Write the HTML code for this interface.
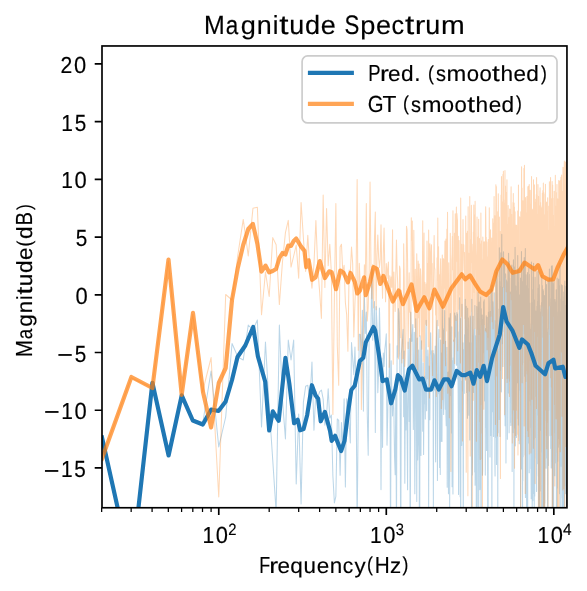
<!DOCTYPE html>
<html><head><meta charset="utf-8"><title>Magnitude Spectrum</title>
<style>html,body{margin:0;padding:0;background:#fff;}svg{display:block;}text{font-family:"Liberation Sans",sans-serif;fill:#000;text-rendering:geometricPrecision;}</style>
</head><body>
<svg style="will-change:transform" width="587" height="591" viewBox="0 0 587 591">
<rect width="587" height="591" fill="#fff"/>
<defs><clipPath id="ax"><rect x="102.0" y="45.97" width="464.95000000000005" height="461.78"/></clipPath></defs>
<g clip-path="url(#ax)" fill="none" stroke-linejoin="round" stroke-linecap="butt">
<path d="M101.66,437.50 L131.16,568.48 L152.09,385.55 L168.33,454.28 L181.59,395.89 L192.81,420.50 L202.52,424.50 L211.09,371.00 L218.76,447.00 L225.69,417.00 L232.03,343.50 L237.85,357.00 L243.24,360.00 L248.26,325.00 L252.96,330.00 L257.37,320.00 L261.53,427.00 L265.46,342.00 L269.19,407.00 L272.74,460.00 L276.13,512.00 L279.36,325.00 L282.46,400.00 L285.43,439.00 L288.28,340.00 L291.03,360.00 L293.67,340.00 L296.23,484.00 L298.69,414.00 L301.08,504.00 L303.39,402.17 L305.63,386.32 L307.80,385.34 L309.91,401.90 L311.96,361.94 L313.95,430.34 L315.89,391.31 L317.78,397.35 L319.62,391.89 L321.42,390.01 L323.17,399.12 L324.88,425.14 L326.56,416.08 L328.19,388.72 L329.79,418.28 L331.36,415.09 L332.89,475.84 L334.39,502.87 L335.86,496.37 L337.30,418.97 L338.71,420.31 L340.10,475.26 L341.46,422.52 L342.79,450.18 L344.10,398.89 L345.39,487.00 L346.66,398.74 L347.90,403.55 L349.12,423.26 L350.33,442.94 L351.51,342.54 L352.67,358.57 L353.82,374.73 L354.95,346.98 L356.06,387.36 L357.15,526.89 L358.23,413.50 L359.29,334.37 L360.34,334.52 L361.37,356.25 L362.39,310.34 L363.39,411.11 L364.38,296.54 L365.36,333.55 L366.32,312.07 L367.27,414.69 L368.21,455.24 L369.14,334.17 L370.05,335.71 L370.96,326.98 L371.85,268.95 L372.73,340.20 L373.60,323.48 L374.47,301.46 L375.32,432.60 L376.16,306.56 L376.99,325.02 L377.81,392.75 L378.62,371.15 L379.43,308.03 L380.22,339.96 L381.01,489.61 L381.79,358.00 L382.56,447.37 L383.32,352.98 L384.07,366.54 L384.82,349.57 L385.56,342.83 L386.29,333.81 L387.01,445.12 L387.73,414.43 L388.44,379.05 L389.14,375.88 L389.84,343.71 L390.53,552.20 L391.21,360.72 L391.89,393.93 L392.56,416.07 L393.22,389.63 L393.88,411.02 L394.54,456.77 L395.18,474.81 L395.82,391.32 L396.46,535.28 L397.09,345.66 L397.71,357.30 L398.33,308.59 L398.95,312.64 L399.56,332.42 L400.16,417.32 L400.76,563.90 L401.35,353.61 L401.94,346.19 L402.53,337.31 L403.11,329.39 L403.68,416.73 L404.25,351.10 L404.82,483.24 L405.38,378.54 L405.94,429.89 L406.49,383.55 L407.04,420.66 L407.58,489.65 L408.12,342.13 L408.66,372.84 L409.19,421.37 L409.72,338.41 L410.25,603.87 L410.77,312.22 L411.29,338.88 L411.80,341.42 L412.31,333.99 L412.82,324.46 L413.32,429.54 L413.82,384.85 L414.32,332.24 L414.81,493.82 L415.30,430.39 L415.79,318.70 L416.27,349.88 L416.75,501.58 L417.23,338.07 L417.71,459.95 L418.18,443.06 L418.64,350.00 L419.11,399.16 L419.57,647.42 L420.03,335.79 L420.49,427.17 L420.94,455.46 L421.39,340.86 L421.84,376.22 L422.28,380.98 L422.73,431.34 L423.16,362.74 L423.60,454.39 L424.04,390.48 L424.47,403.79 L424.90,376.36 L425.32,419.10 L425.75,351.74 L426.17,320.25 L426.59,410.74 L427.01,356.72 L427.42,378.69 L427.83,350.13 L428.24,358.48 L428.65,507.77 L429.06,366.03 L429.46,376.66 L429.86,419.63 L430.26,348.39 L430.65,332.67 L431.05,354.10 L431.44,350.78 L431.83,377.64 L432.22,384.41 L432.61,368.52 L432.99,350.45 L433.37,509.14 L433.75,353.55 L434.13,356.32 L434.51,389.98 L434.88,368.58 L435.25,346.04 L435.62,461.87 L435.99,374.74 L436.36,339.80 L436.72,328.04 L437.08,320.18 L437.45,480.47 L437.80,374.58 L438.16,393.76 L438.52,344.76 L438.87,329.40 L439.22,383.93 L439.58,467.54 L439.92,391.17 L440.27,474.51 L440.62,339.92 L440.96,441.36 L441.30,366.95 L441.64,353.10 L441.98,441.45 L442.32,306.32 L442.66,355.57 L442.99,328.52 L443.32,401.00 L443.66,414.49 L443.99,329.96 L444.31,337.00 L444.64,310.53 L444.97,395.72 L445.29,409.35 L445.61,341.23 L445.94,415.50 L446.25,425.69 L446.57,396.68 L446.89,347.37 L447.21,487.14 L447.52,372.50 L447.83,386.47 L448.14,371.97 L448.45,493.70 L448.76,445.01 L449.07,317.87 L449.38,322.88 L449.68,511.42 L449.99,359.43 L450.29,313.49 L450.59,346.77 L450.89,395.62 L451.19,383.49 L451.49,432.90 L451.78,326.77 L452.08,486.67 L452.37,371.01 L452.67,360.65 L452.96,493.92 L453.25,357.81 L453.54,385.55 L453.82,339.98 L454.11,384.69 L454.40,355.29 L454.68,313.12 L454.97,336.99 L455.25,323.35 L455.53,315.76 L455.81,328.26 L456.09,345.03 L456.37,365.17 L456.65,323.29 L456.92,312.56 L457.20,365.09 L457.47,314.33 L457.74,379.06 L458.02,375.23 L458.29,412.90 L458.56,494.42 L458.83,347.86 L459.09,331.84 L459.36,412.07 L459.63,297.66 L459.89,412.66 L460.16,496.79 L460.42,318.45 L460.68,601.85 L460.94,386.78 L461.20,400.40 L461.46,381.11 L461.72,445.37 L461.98,304.31 L462.23,343.57 L462.49,363.40 L462.75,390.99 L463.00,342.76 L463.25,562.11 L463.50,368.62 L463.76,349.83 L464.01,390.16 L464.26,393.40 L464.50,334.78 L464.75,379.19 L465.00,337.83 L465.25,299.15 L465.49,357.32 L465.74,379.30 L465.98,334.21 L466.22,306.22 L466.46,326.45 L466.71,392.56 L466.95,329.10 L467.19,341.43 L467.42,418.24 L467.66,308.31 L467.90,331.61 L468.14,370.92 L468.37,318.06 L468.61,384.19 L468.84,415.27 L469.08,374.57 L469.31,366.77 L469.54,342.64 L469.77,440.06 L470.00,326.01 L470.23,315.97 L470.46,317.70 L470.69,368.80 L470.92,342.89 L471.14,357.65 L471.37,377.67 L471.60,647.00 L471.82,299.21 L472.05,340.82 L472.27,474.88 L472.49,460.31 L472.71,385.54 L472.94,362.44 L473.16,316.27 L473.38,386.57 L473.60,392.42 L473.82,390.48 L474.03,354.51 L474.25,337.65 L474.47,328.91 L474.68,472.07 L474.90,305.44 L475.11,485.13 L475.33,457.99 L475.54,335.76 L475.76,361.26 L475.97,479.02 L476.18,433.01 L476.39,588.14 L476.60,510.45 L476.81,306.49 L477.02,327.67 L477.23,506.59 L477.44,398.02 L477.65,333.06 L477.85,359.32 L478.06,292.23 L478.26,315.78 L478.47,412.92 L478.67,511.96 L478.88,364.62 L479.08,329.34 L479.28,301.99 L479.49,332.03 L479.69,334.18 L479.89,489.62 L480.09,350.67 L480.29,400.00 L480.49,385.39 L480.69,297.04 L480.89,372.14 L481.09,679.91 L481.28,308.89 L481.48,364.21 L481.68,401.02 L481.87,337.76 L482.07,458.85 L482.26,314.95 L482.46,475.22 L482.65,470.71 L482.84,319.66 L483.04,322.68 L483.23,337.37 L483.42,352.19 L483.61,301.82 L483.80,309.55 L483.99,362.07 L484.18,299.86 L484.37,339.19 L484.56,400.95 L484.75,347.47 L484.94,331.39 L485.12,377.62 L485.31,475.12 L485.50,328.64 L485.68,427.15 L485.87,362.38 L486.05,379.36 L486.24,315.87 L486.42,394.01 L486.61,450.38 L486.79,431.26 L486.97,360.92 L487.15,317.23 L487.33,343.49 L487.52,401.70 L487.70,530.13 L487.88,417.16 L488.06,603.00 L488.24,365.47 L488.42,311.92 L488.59,352.66 L488.77,379.61 L488.95,296.22 L489.13,302.04 L489.30,318.15 L489.48,317.32 L489.66,331.52 L489.83,329.70 L490.01,457.01 L490.18,330.60 L490.36,311.55 L490.53,396.82 L490.70,435.60 L490.88,355.06 L491.05,288.88 L491.22,372.74 L491.39,388.31 L491.56,315.61 L491.73,359.17 L491.91,572.82 L492.08,284.99 L492.25,315.04 L492.41,332.14 L492.58,411.79 L492.75,307.22 L492.92,301.83 L493.09,308.25 L493.26,393.03 L493.42,389.81 L493.59,436.43 L493.76,310.89 L493.92,367.53 L494.09,371.32 L494.25,292.73 L494.42,367.42 L494.58,379.17 L494.75,320.57 L494.91,462.65 L495.07,475.97 L495.24,350.09 L495.40,381.37 L495.56,325.08 L495.72,437.24 L495.88,331.79 L496.05,272.30 L496.21,318.32 L496.37,311.96 L496.53,464.42 L496.69,396.89 L496.85,273.05 L497.00,268.08 L497.16,286.68 L497.32,301.21 L497.48,349.80 L497.64,349.29 L497.79,563.54 L497.95,352.60 L498.11,382.33 L498.26,432.66 L498.42,385.42 L498.58,351.29 L498.73,353.77 L498.89,308.97 L499.04,351.92 L499.20,419.43 L499.35,247.84 L499.50,395.51 L499.66,281.54 L499.81,299.78 L499.96,436.49 L500.11,333.57 L500.27,286.95 L500.42,290.36 L500.57,305.80 L500.72,370.42 L500.87,252.89 L501.02,341.75 L501.17,308.56 L501.32,391.86 L501.47,265.95 L501.62,277.17 L501.77,234.23 L501.92,301.95 L502.07,291.89 L502.21,343.68 L502.36,291.81 L502.51,287.58 L502.66,310.38 L502.80,308.06 L502.95,366.55 L503.10,316.43 L503.24,331.73 L503.39,252.99 L503.53,251.89 L503.68,323.64 L503.82,296.34 L503.97,264.53 L504.11,303.35 L504.26,304.82 L504.40,279.75 L504.54,264.59 L504.69,269.00 L504.83,416.02 L504.97,353.95 L505.11,425.66 L505.26,346.60 L505.40,325.23 L505.54,273.79 L505.68,275.34 L505.82,325.07 L505.96,463.08 L506.10,298.40 L506.24,310.13 L506.38,279.97 L506.52,341.28 L506.66,293.92 L506.80,281.59 L506.94,290.86 L507.08,378.54 L507.21,327.37 L507.35,439.30 L507.49,343.40 L507.63,311.51 L507.77,389.47 L507.90,264.55 L508.04,387.98 L508.17,315.48 L508.31,304.65 L508.45,393.07 L508.58,253.33 L508.72,306.05 L508.85,313.96 L508.99,369.95 L509.12,432.63 L509.26,261.31 L509.39,277.62 L509.52,343.54 L509.66,297.14 L509.79,335.35 L509.93,325.22 L510.06,381.19 L510.19,291.90 L510.32,320.33 L510.46,341.38 L510.59,422.39 L510.72,336.55 L510.85,425.60 L510.98,392.56 L511.11,304.32 L511.24,278.37 L511.37,313.88 L511.50,265.68 L511.63,320.27 L511.76,291.02 L511.89,265.13 L512.02,309.61 L512.15,471.45 L512.28,274.44 L512.41,293.90 L512.54,293.53 L512.67,270.25 L512.79,347.50 L512.92,332.94 L513.05,407.34 L513.18,388.50 L513.30,432.66 L513.43,259.83 L513.56,271.56 L513.68,284.66 L513.81,267.10 L513.94,512.91 L514.06,347.94 L514.19,313.99 L514.31,343.15 L514.44,412.11 L514.56,330.47 L514.69,266.67 L514.81,405.88 L514.94,427.98 L515.06,247.25 L515.18,273.22 L515.31,445.86 L515.43,323.25 L515.55,302.24 L515.68,286.98 L515.80,285.99 L515.92,402.61 L516.04,291.01 L516.17,419.69 L516.29,312.61 L516.41,437.50 L516.53,306.66 L516.65,331.36 L516.77,291.86 L516.90,301.37 L517.02,271.26 L517.14,271.54 L517.26,306.92 L517.38,382.80 L517.50,344.93 L517.62,353.79 L517.74,255.53 L517.86,314.65 L517.98,343.46 L518.09,418.65 L518.21,284.03 L518.33,425.00 L518.45,328.37 L518.57,408.74 L518.69,282.19 L518.80,403.75 L518.92,268.22 L519.04,436.17 L519.16,431.79 L519.27,443.81 L519.39,308.32 L519.51,390.33 L519.62,295.87 L519.74,331.55 L519.86,303.50 L519.97,330.34 L520.09,337.08 L520.20,294.31 L520.32,321.86 L520.43,291.78 L520.55,277.90 L520.66,565.84 L520.78,295.93 L520.89,281.04 L521.01,290.64 L521.12,382.99 L521.24,420.95 L521.35,392.07 L521.46,251.59 L521.58,329.54 L521.69,469.00 L521.80,282.58 L521.92,274.63 L522.03,269.93 L522.14,292.50 L522.25,312.38 L522.37,370.29 L522.48,281.60 L522.59,532.69 L522.70,301.01 L522.81,480.78 L522.92,347.93 L523.03,414.31 L523.15,456.65 L523.26,350.75 L523.37,362.86 L523.48,261.90 L523.59,292.19 L523.70,284.77 L523.81,319.21 L523.92,333.71 L524.03,319.17 L524.14,323.75 L524.25,257.45 L524.36,302.97 L524.46,290.36 L524.57,295.63 L524.68,376.14 L524.79,322.85 L524.90,275.03 L525.01,262.78 L525.12,454.92 L525.22,278.60 L525.33,248.54 L525.44,497.53 L525.55,314.10 L525.65,316.41 L525.76,291.75 L525.87,413.71 L525.97,415.58 L526.08,274.82 L526.19,379.43 L526.29,292.17 L526.40,405.73 L526.51,323.96 L526.61,564.62 L526.72,400.46 L526.82,308.13 L526.93,318.00 L527.03,355.33 L527.14,285.41 L527.24,298.94 L527.35,314.54 L527.45,272.52 L527.56,280.25 L527.66,560.04 L527.77,381.41 L527.87,311.00 L527.97,376.66 L528.08,290.25 L528.18,347.08 L528.28,333.98 L528.39,288.45 L528.49,290.05 L528.59,443.07 L528.70,380.98 L528.80,268.26 L528.90,305.76 L529.00,358.70 L529.11,297.37 L529.21,472.69 L529.31,274.31 L529.41,388.43 L529.51,341.56 L529.62,353.66 L529.72,318.96 L529.82,303.06 L529.92,391.92 L530.02,323.77 L530.12,331.15 L530.22,340.44 L530.32,401.10 L530.42,329.14 L530.52,338.42 L530.62,427.67 L530.72,351.81 L530.82,468.59 L530.92,354.70 L531.02,452.24 L531.12,484.96 L531.22,498.77 L531.32,357.93 L531.42,262.12 L531.52,470.85 L531.62,310.43 L531.72,364.24 L531.81,408.70 L531.91,302.64 L532.01,335.85 L532.11,304.81 L532.21,704.22 L532.30,309.62 L532.40,420.20 L532.50,375.97 L532.60,324.52 L532.69,289.48 L532.79,441.38 L532.89,500.68 L532.99,277.06 L533.08,286.29 L533.18,268.95 L533.28,295.58 L533.37,369.59 L533.47,321.33 L533.56,263.35 L533.66,371.39 L533.76,443.33 L533.85,493.48 L533.95,375.16 L534.04,354.67 L534.14,432.07 L534.23,542.18 L534.33,304.00 L534.42,299.94 L534.52,450.11 L534.61,307.36 L534.71,496.03 L534.80,399.15 L534.90,365.79 L534.99,347.96 L535.09,277.19 L535.18,356.12 L535.27,323.98 L535.37,396.23 L535.46,352.69 L535.56,321.77 L535.65,348.37 L535.74,355.32 L535.84,310.95 L535.93,336.61 L536.02,437.54 L536.11,369.98 L536.21,329.67 L536.30,353.83 L536.39,458.13 L536.49,362.86 L536.58,491.46 L536.67,370.04 L536.76,306.28 L536.85,350.45 L536.95,372.70 L537.04,271.52 L537.13,304.83 L537.22,311.16 L537.31,337.42 L537.40,301.29 L537.49,333.65 L537.58,360.67 L537.68,415.29 L537.77,328.36 L537.86,463.84 L537.95,323.14 L538.04,401.82 L538.13,404.01 L538.22,346.58 L538.31,288.18 L538.40,476.23 L538.49,333.93 L538.58,508.97 L538.67,271.49 L538.76,320.06 L538.85,330.14 L538.94,373.79 L539.03,411.67 L539.11,346.22 L539.20,486.89 L539.29,360.64 L539.38,284.82 L539.47,382.72 L539.56,550.33 L539.65,381.20 L539.74,318.73 L539.82,310.59 L539.91,305.52 L540.00,466.70 L540.09,490.88 L540.18,374.56 L540.26,369.22 L540.35,390.31 L540.44,350.19 L540.53,336.91 L540.61,319.42 L540.70,421.88 L540.79,398.21 L540.87,427.70 L540.96,311.70 L541.05,430.25 L541.13,418.93 L541.22,309.11 L541.31,413.98 L541.39,314.18 L541.48,302.52 L541.57,452.18 L541.65,321.24 L541.74,614.27 L541.82,275.25 L541.91,359.17 L542.00,380.05 L542.08,417.26 L542.17,341.22 L542.25,336.00 L542.34,285.53 L542.42,477.00 L542.51,531.15 L542.59,359.74 L542.68,368.13 L542.76,391.38 L542.85,539.08 L542.93,360.30 L543.02,289.41 L543.10,307.50 L543.18,425.45 L543.27,335.08 L543.35,404.65 L543.44,290.70 L543.52,597.14 L543.60,304.28 L543.69,323.82 L543.77,348.00 L543.85,485.00 L543.94,315.13 L544.02,627.28 L544.10,365.55 L544.19,379.78 L544.27,295.51 L544.35,529.62 L544.44,335.25 L544.52,680.53 L544.60,361.62 L544.68,443.53 L544.77,367.49 L544.85,502.98 L544.93,350.92 L545.01,367.42 L545.10,420.13 L545.18,319.62 L545.26,395.04 L545.34,288.15 L545.42,407.65 L545.50,279.77 L545.59,295.08 L545.67,355.29 L545.75,391.11 L545.83,304.15 L545.91,356.56 L545.99,396.84 L546.07,468.30 L546.15,315.77 L546.24,346.15 L546.32,284.20 L546.40,350.78 L546.48,285.00 L546.56,360.74 L546.64,309.36 L546.72,314.20 L546.80,458.09 L546.88,328.55 L546.96,339.08 L547.04,409.00 L547.12,424.33 L547.20,383.00 L547.28,399.94 L547.36,422.92 L547.44,333.08 L547.52,580.05 L547.60,546.53 L547.67,531.66 L547.75,485.69 L547.83,508.19 L547.91,377.83 L547.99,359.66 L548.07,350.64 L548.15,281.01 L548.23,323.83 L548.30,388.45 L548.38,465.38 L548.46,281.90 L548.54,297.71 L548.62,410.53 L548.70,309.76 L548.77,300.09 L548.85,337.36 L548.93,331.38 L549.01,335.42 L549.09,291.74 L549.16,291.72 L549.24,315.16 L549.32,287.48 L549.40,268.99 L549.47,345.11 L549.55,315.08 L549.63,357.97 L549.70,350.83 L549.78,361.42 L549.86,397.76 L549.93,435.67 L550.01,402.17 L550.09,332.91 L550.16,306.60 L550.24,328.30 L550.32,318.94 L550.39,390.44 L550.47,361.52 L550.55,362.20 L550.62,298.68 L550.70,448.41 L550.77,389.29 L550.85,288.89 L550.93,279.14 L551.00,438.00 L551.08,311.96 L551.15,387.45 L551.23,467.89 L551.30,337.58 L551.38,273.61 L551.45,266.13 L551.53,392.39 L551.60,320.86 L551.68,460.94 L551.75,323.73 L551.83,309.86 L551.90,339.55 L551.98,293.97 L552.05,333.67 L552.13,337.23 L552.20,343.17 L552.28,265.70 L552.35,585.17 L552.42,329.17 L552.50,321.99 L552.57,431.29 L552.65,361.07 L552.72,507.88 L552.79,282.81 L552.87,349.19 L552.94,322.63 L553.02,341.75 L553.09,441.14 L553.16,304.24 L553.24,455.99 L553.31,337.63 L553.38,346.29 L553.46,284.14 L553.53,333.09 L553.60,628.38 L553.67,413.90 L553.75,328.42 L553.82,411.29 L553.89,386.61 L553.97,361.42 L554.04,280.50 L554.11,417.31 L554.18,339.24 L554.26,361.76 L554.33,340.65 L554.40,432.76 L554.47,397.12 L554.54,325.31 L554.62,339.89 L554.69,392.21 L554.76,319.17 L554.83,475.78 L554.90,299.62 L554.97,420.94 L555.05,423.65 L555.12,357.90 L555.19,322.58 L555.26,320.63 L555.33,301.85 L555.40,326.76 L555.47,384.14 L555.55,333.27 L555.62,303.66 L555.69,314.07 L555.76,418.17 L555.83,426.81 L555.90,462.95 L555.97,373.45 L556.04,325.37 L556.11,365.02 L556.18,289.79 L556.25,366.37 L556.32,358.55 L556.39,589.93 L556.46,706.45 L556.53,443.75 L556.60,440.25 L556.67,397.80 L556.74,379.18 L556.81,485.70 L556.88,574.97 L556.95,529.83 L557.02,301.15 L557.09,433.17 L557.16,277.97 L557.23,300.14 L557.30,487.91 L557.37,322.18 L557.44,389.88 L557.51,442.38 L557.58,359.74 L557.65,325.58 L557.72,461.19 L557.78,353.90 L557.85,317.96 L557.92,413.38 L557.99,381.80 L558.06,363.58 L558.13,438.42 L558.20,383.94 L558.27,319.90 L558.33,311.67 L558.40,380.64 L558.47,344.37 L558.54,279.50 L558.61,407.96 L558.67,339.89 L558.74,279.01 L558.81,298.73 L558.88,297.23 L558.95,447.25 L559.01,419.21 L559.08,341.95 L559.15,317.70 L559.22,323.26 L559.28,390.01 L559.35,291.38 L559.42,316.39 L559.49,493.71 L559.55,368.06 L559.62,321.77 L559.69,325.82 L559.76,285.60 L559.82,411.80 L559.89,437.44 L559.96,335.03 L560.02,263.14 L560.09,525.98 L560.16,409.58 L560.22,621.70 L560.29,339.33 L560.36,329.03 L560.42,385.51 L560.49,349.39 L560.56,339.76 L560.62,391.09 L560.69,312.34 L560.75,414.86 L560.82,466.30 L560.89,330.62 L560.95,400.85 L561.02,357.43 L561.08,316.08 L561.15,419.85 L561.22,298.68 L561.28,333.50 L561.35,393.28 L561.41,320.53 L561.48,284.84 L561.54,458.42 L561.61,391.07 L561.67,374.06 L561.74,357.10 L561.81,498.00 L561.87,344.18 L561.94,359.51 L562.00,422.47 L562.07,673.22 L562.13,308.82 L562.20,374.11 L562.26,530.55 L562.32,285.42 L562.39,307.33 L562.45,365.95 L562.52,547.77 L562.58,390.38 L562.65,354.72 L562.71,405.37 L562.78,314.09 L562.84,301.35 L562.91,577.38 L562.97,309.38 L563.03,354.76 L563.10,313.90 L563.16,416.28 L563.23,543.61 L563.29,313.45 L563.35,389.33 L563.42,346.29 L563.48,366.53 L563.54,353.40 L563.61,395.35 L563.67,296.56 L563.74,375.05 L563.80,292.13 L563.86,320.07 L563.93,335.56 L563.99,343.31 L564.05,380.90 L564.12,781.16 L564.18,305.00 L564.24,351.63 L564.30,393.73 L564.37,552.26 L564.43,300.60 L564.49,285.46 L564.56,411.10 L564.62,289.67 L564.68,364.05 L564.74,485.82 L564.81,281.04 L564.87,399.46 L564.93,381.05 L564.99,410.61 L565.06,415.50 L565.12,458.46 L565.18,399.21 L565.24,327.36 L565.31,396.30 L565.37,362.07 L565.43,373.70 L565.49,388.31 L565.55,305.40 L565.62,493.84 L565.68,432.15 L565.74,387.00 L565.80,378.60 L565.86,342.65 L565.92,310.57 L565.99,463.99 L566.05,327.37 L566.11,286.20 L566.17,312.35 L566.23,381.02 L566.29,311.81 L566.35,323.13 L566.42,322.55 L566.48,326.13 L566.54,526.89 L566.60,339.07 L566.66,345.86 L566.72,410.11 L566.78,441.06 L566.84,325.40 L566.90,405.34 L566.96,682.62 L567.02,414.83 L567.09,318.37" stroke="#1f77b4" stroke-opacity="0.3" stroke-width="1.04"/>
<path d="M101.66,458.70 L131.16,377.66 L152.09,387.84 L168.33,260.87 L181.59,393.71 L192.81,314.28 L202.52,392.00 L211.09,357.60 L218.76,497.00 L225.69,294.50 L232.03,300.00 L237.85,255.00 L243.24,219.40 L248.26,255.90 L252.96,208.20 L257.37,207.20 L261.53,314.80 L265.46,272.00 L269.19,296.50 L272.74,237.60 L276.13,244.70 L279.36,304.60 L282.46,262.00 L285.43,232.60 L288.28,220.40 L291.03,267.10 L293.67,256.00 L296.23,245.00 L298.69,278.20 L301.08,202.60 L303.39,237.76 L305.63,271.42 L307.80,235.23 L309.91,270.04 L311.96,288.23 L313.95,264.54 L315.89,220.50 L317.78,267.68 L319.62,291.77 L321.42,318.39 L323.17,195.00 L324.88,287.48 L326.56,208.60 L328.19,265.83 L329.79,244.17 L331.36,272.60 L332.89,414.44 L334.39,298.56 L335.86,203.40 L337.30,345.70 L338.71,385.16 L340.10,246.90 L341.46,244.23 L342.79,272.42 L344.10,265.23 L345.39,302.72 L346.66,314.51 L347.90,351.24 L349.12,270.14 L350.33,272.14 L351.51,246.90 L352.67,263.56 L353.82,336.96 L354.95,302.43 L356.06,277.14 L357.15,179.60 L358.23,350.33 L359.29,263.18 L360.34,287.07 L361.37,409.38 L362.39,349.50 L363.39,326.87 L364.38,264.70 L365.36,280.82 L366.32,203.40 L367.27,321.09 L368.21,307.42 L369.14,272.41 L370.05,182.10 L370.96,265.00 L371.85,298.77 L372.73,264.48 L373.60,307.86 L374.47,238.50 L375.32,212.00 L376.16,309.74 L376.99,256.50 L377.81,235.00 L378.62,257.02 L379.43,267.44 L380.22,259.19 L381.01,224.70 L381.79,272.07 L382.56,298.35 L383.32,252.78 L384.07,228.10 L384.82,270.31 L385.56,301.71 L386.29,263.52 L387.01,278.58 L387.73,268.19 L388.44,262.04 L389.14,367.29 L389.84,275.74 L390.53,290.36 L391.21,277.08 L391.89,287.36 L392.56,229.80 L393.22,364.20 L393.88,271.94 L394.54,296.53 L395.18,311.57 L395.82,272.53 L396.46,240.00 L397.09,270.07 L397.71,283.83 L398.33,359.06 L398.95,353.92 L399.56,266.11 L400.16,269.20 L400.76,337.83 L401.35,290.33 L401.94,363.07 L402.53,339.33 L403.11,358.45 L403.68,243.75 L404.25,279.61 L404.82,366.52 L405.38,354.45 L405.94,333.42 L406.49,226.38 L407.04,229.86 L407.58,261.02 L408.12,348.38 L408.66,308.99 L409.19,272.75 L409.72,312.20 L410.25,311.19 L410.77,366.35 L411.29,217.85 L411.80,240.18 L412.31,220.90 L412.82,294.15 L413.32,296.93 L413.82,230.18 L414.32,294.70 L414.81,327.59 L415.30,269.39 L415.79,367.17 L416.27,308.87 L416.75,253.77 L417.23,293.61 L417.71,370.05 L418.18,260.90 L418.64,317.65 L419.11,264.07 L419.57,336.11 L420.03,288.37 L420.49,268.78 L420.94,277.39 L421.39,339.19 L421.84,349.21 L422.28,302.73 L422.73,220.82 L423.16,361.46 L423.60,292.66 L424.04,233.06 L424.47,379.47 L424.90,282.28 L425.32,324.28 L425.75,308.95 L426.17,284.12 L426.59,325.47 L427.01,240.94 L427.42,295.96 L427.83,263.48 L428.24,346.84 L428.65,230.03 L429.06,285.56 L429.46,397.97 L429.86,243.65 L430.26,250.95 L430.65,254.50 L431.05,294.90 L431.44,244.81 L431.83,272.02 L432.22,263.57 L432.61,375.43 L432.99,296.85 L433.37,293.80 L433.75,263.04 L434.13,235.56 L434.51,267.24 L434.88,269.55 L435.25,299.99 L435.62,315.01 L435.99,293.23 L436.36,396.54 L436.72,300.01 L437.08,257.81 L437.45,280.11 L437.80,217.97 L438.16,325.67 L438.52,246.75 L438.87,283.17 L439.22,274.53 L439.58,304.66 L439.92,337.38 L440.27,274.97 L440.62,258.66 L440.96,293.92 L441.30,408.38 L441.64,370.24 L441.98,274.19 L442.32,255.11 L442.66,399.62 L442.99,264.81 L443.32,258.63 L443.66,343.43 L443.99,259.82 L444.31,288.20 L444.64,265.51 L444.97,240.98 L445.29,353.25 L445.61,365.71 L445.94,238.99 L446.25,330.96 L446.57,288.68 L446.89,229.39 L447.21,265.33 L447.52,212.16 L447.83,393.20 L448.14,374.21 L448.45,306.86 L448.76,262.87 L449.07,376.36 L449.38,417.81 L449.68,311.77 L449.99,301.59 L450.29,233.17 L450.59,308.39 L450.89,471.50 L451.19,350.03 L451.49,310.71 L451.78,259.86 L452.08,253.93 L452.37,236.19 L452.67,269.74 L452.96,210.72 L453.25,313.05 L453.54,341.28 L453.82,273.00 L454.11,301.95 L454.40,233.20 L454.68,363.54 L454.97,264.30 L455.25,213.81 L455.53,276.01 L455.81,289.40 L456.09,320.58 L456.37,207.14 L456.65,261.18 L456.92,213.55 L457.20,217.70 L457.47,220.19 L457.74,350.63 L458.02,330.26 L458.29,236.26 L458.56,299.98 L458.83,309.29 L459.09,240.57 L459.36,267.87 L459.63,294.33 L459.89,291.82 L460.16,297.50 L460.42,363.04 L460.68,198.00 L460.94,236.61 L461.20,316.35 L461.46,304.90 L461.72,244.28 L461.98,264.21 L462.23,368.26 L462.49,441.03 L462.75,273.77 L463.00,219.53 L463.25,252.10 L463.50,248.15 L463.76,244.70 L464.01,258.22 L464.26,269.87 L464.50,252.56 L464.75,318.80 L465.00,306.24 L465.25,333.23 L465.49,380.52 L465.74,215.99 L465.98,281.59 L466.22,472.27 L466.46,292.86 L466.71,233.35 L466.95,307.28 L467.19,307.11 L467.42,231.33 L467.66,349.51 L467.90,495.80 L468.14,206.84 L468.37,321.14 L468.61,256.71 L468.84,253.18 L469.08,320.32 L469.31,391.11 L469.54,367.69 L469.77,196.62 L470.00,278.39 L470.23,456.09 L470.46,272.20 L470.69,239.43 L470.92,262.51 L471.14,234.65 L471.37,205.26 L471.60,235.53 L471.82,311.46 L472.05,290.40 L472.27,542.69 L472.49,259.73 L472.71,251.15 L472.94,243.90 L473.16,400.30 L473.38,232.01 L473.60,239.19 L473.82,204.97 L474.03,292.32 L474.25,255.17 L474.47,215.31 L474.68,305.32 L474.90,328.44 L475.11,201.30 L475.33,235.78 L475.54,250.26 L475.76,258.83 L475.97,261.39 L476.18,282.41 L476.39,441.14 L476.60,276.48 L476.81,242.99 L477.02,216.90 L477.23,326.79 L477.44,329.56 L477.65,256.41 L477.85,367.80 L478.06,237.02 L478.26,362.13 L478.47,280.41 L478.67,219.36 L478.88,310.84 L479.08,334.51 L479.28,256.14 L479.49,238.59 L479.69,263.98 L479.89,421.81 L480.09,306.88 L480.29,459.43 L480.49,243.86 L480.69,404.80 L480.89,212.99 L481.09,279.61 L481.28,324.78 L481.48,240.65 L481.68,267.15 L481.87,259.65 L482.07,433.33 L482.26,269.14 L482.46,507.83 L482.65,344.43 L482.84,237.07 L483.04,247.62 L483.23,295.15 L483.42,353.11 L483.61,247.91 L483.80,409.16 L483.99,241.83 L484.18,251.71 L484.37,324.51 L484.56,250.11 L484.75,278.19 L484.94,241.89 L485.12,290.95 L485.31,330.52 L485.50,217.41 L485.68,206.76 L485.87,228.04 L486.05,331.87 L486.24,237.26 L486.42,281.65 L486.61,300.26 L486.79,242.08 L486.97,329.24 L487.15,349.83 L487.33,317.51 L487.52,266.31 L487.70,256.75 L487.88,337.22 L488.06,254.59 L488.24,239.48 L488.42,337.11 L488.59,272.89 L488.77,365.26 L488.95,303.25 L489.13,250.18 L489.30,207.84 L489.48,245.66 L489.66,316.71 L489.83,257.27 L490.01,301.63 L490.18,361.00 L490.36,235.00 L490.53,229.68 L490.70,252.81 L490.88,316.13 L491.05,278.88 L491.22,249.52 L491.39,290.63 L491.56,253.53 L491.73,237.93 L491.91,290.81 L492.08,248.56 L492.25,321.68 L492.41,256.80 L492.58,272.90 L492.75,218.69 L492.92,316.46 L493.09,328.68 L493.26,258.04 L493.42,279.99 L493.59,222.90 L493.76,253.08 L493.92,286.28 L494.09,196.57 L494.25,283.58 L494.42,250.62 L494.58,229.71 L494.75,235.19 L494.91,215.86 L495.07,272.57 L495.24,237.40 L495.40,424.56 L495.56,226.84 L495.72,289.67 L495.88,184.81 L496.05,375.98 L496.21,197.62 L496.37,186.60 L496.53,277.21 L496.69,319.04 L496.85,304.89 L497.00,360.81 L497.16,319.28 L497.32,308.52 L497.48,436.08 L497.64,211.89 L497.79,267.30 L497.95,268.75 L498.11,256.73 L498.26,193.87 L498.42,214.47 L498.58,276.57 L498.73,253.61 L498.89,308.93 L499.04,337.06 L499.20,306.60 L499.35,217.13 L499.50,263.69 L499.66,336.17 L499.81,299.92 L499.96,259.44 L500.11,231.56 L500.27,439.54 L500.42,478.49 L500.57,384.16 L500.72,250.82 L500.87,319.40 L501.02,195.00 L501.17,210.50 L501.32,311.21 L501.47,176.55 L501.62,315.94 L501.77,249.40 L501.92,201.71 L502.07,240.58 L502.21,327.47 L502.36,336.93 L502.51,378.55 L502.66,264.80 L502.80,214.45 L502.95,174.39 L503.10,221.56 L503.24,242.04 L503.39,171.39 L503.53,238.59 L503.68,200.10 L503.82,270.73 L503.97,287.30 L504.11,232.78 L504.26,275.34 L504.40,202.94 L504.54,225.40 L504.69,414.49 L504.83,215.11 L504.97,170.64 L505.11,241.09 L505.26,185.66 L505.40,258.33 L505.54,186.34 L505.68,240.50 L505.82,263.45 L505.96,277.73 L506.10,192.52 L506.24,291.65 L506.38,212.97 L506.52,195.61 L506.66,239.12 L506.80,216.11 L506.94,179.83 L507.08,382.39 L507.21,343.08 L507.35,328.07 L507.49,224.56 L507.63,241.55 L507.77,233.08 L507.90,378.24 L508.04,257.40 L508.17,205.45 L508.31,229.54 L508.45,227.74 L508.58,309.76 L508.72,269.32 L508.85,268.25 L508.99,283.92 L509.12,217.50 L509.26,249.01 L509.39,396.45 L509.52,243.39 L509.66,208.95 L509.79,365.29 L509.93,255.33 L510.06,332.13 L510.19,211.94 L510.32,233.67 L510.46,289.38 L510.59,251.73 L510.72,209.03 L510.85,293.71 L510.98,195.07 L511.11,186.88 L511.24,235.78 L511.37,299.84 L511.50,280.27 L511.63,214.22 L511.76,237.51 L511.89,330.80 L512.02,299.95 L512.15,372.53 L512.28,442.94 L512.41,315.99 L512.54,270.86 L512.67,276.14 L512.79,215.23 L512.92,203.63 L513.05,202.09 L513.18,317.15 L513.30,193.62 L513.43,244.61 L513.56,409.92 L513.68,312.02 L513.81,261.74 L513.94,242.62 L514.06,203.01 L514.19,242.23 L514.31,437.52 L514.44,206.92 L514.56,468.33 L514.69,327.41 L514.81,252.85 L514.94,406.06 L515.06,211.89 L515.18,318.18 L515.31,286.08 L515.43,274.14 L515.55,308.77 L515.68,435.44 L515.80,347.41 L515.92,332.65 L516.04,224.93 L516.17,354.89 L516.29,410.24 L516.41,339.60 L516.53,270.57 L516.65,225.42 L516.77,307.38 L516.90,254.82 L517.02,292.97 L517.14,352.88 L517.26,284.59 L517.38,263.24 L517.50,434.25 L517.62,301.17 L517.74,210.97 L517.86,340.06 L517.98,455.01 L518.09,381.81 L518.21,325.22 L518.33,346.82 L518.45,184.97 L518.57,440.60 L518.69,390.15 L518.80,244.21 L518.92,256.07 L519.04,267.57 L519.16,306.51 L519.27,336.63 L519.39,260.60 L519.51,328.53 L519.62,216.83 L519.74,246.62 L519.86,297.85 L519.97,268.15 L520.09,240.69 L520.20,217.52 L520.32,349.04 L520.43,325.21 L520.55,392.69 L520.66,527.22 L520.78,211.84 L520.89,229.16 L521.01,261.09 L521.12,231.07 L521.24,220.98 L521.35,345.83 L521.46,196.92 L521.58,166.82 L521.69,203.02 L521.80,208.61 L521.92,344.96 L522.03,188.04 L522.14,382.66 L522.25,265.73 L522.37,364.68 L522.48,219.19 L522.59,267.98 L522.70,287.58 L522.81,264.37 L522.92,200.76 L523.03,252.22 L523.15,324.52 L523.26,289.15 L523.37,306.01 L523.48,206.71 L523.59,217.84 L523.70,221.45 L523.81,242.53 L523.92,168.62 L524.03,254.65 L524.14,425.92 L524.25,256.58 L524.36,225.69 L524.46,165.19 L524.57,382.76 L524.68,238.39 L524.79,229.37 L524.90,304.47 L525.01,351.75 L525.12,271.77 L525.22,493.49 L525.33,401.75 L525.44,213.96 L525.55,197.47 L525.65,201.12 L525.76,220.06 L525.87,381.60 L525.97,212.70 L526.08,370.66 L526.19,232.52 L526.29,303.30 L526.40,249.63 L526.51,347.89 L526.61,301.47 L526.72,218.76 L526.82,250.15 L526.93,196.64 L527.03,309.67 L527.14,252.57 L527.24,373.96 L527.35,278.90 L527.45,196.38 L527.56,198.09 L527.66,430.69 L527.77,244.54 L527.87,186.77 L527.97,230.59 L528.08,206.50 L528.18,436.40 L528.28,263.05 L528.39,186.37 L528.49,310.07 L528.59,372.10 L528.70,251.54 L528.80,281.10 L528.90,339.18 L529.00,297.14 L529.11,217.48 L529.21,184.60 L529.31,454.01 L529.41,272.34 L529.51,275.57 L529.62,242.25 L529.72,216.58 L529.82,262.98 L529.92,200.34 L530.02,360.04 L530.12,213.07 L530.22,190.20 L530.32,194.30 L530.42,355.54 L530.52,224.31 L530.62,268.63 L530.72,405.21 L530.82,228.87 L530.92,452.95 L531.02,345.57 L531.12,329.03 L531.22,204.00 L531.32,225.75 L531.42,224.46 L531.52,176.58 L531.62,391.03 L531.72,251.15 L531.81,395.27 L531.91,208.69 L532.01,399.36 L532.11,341.92 L532.21,266.58 L532.30,229.57 L532.40,268.11 L532.50,263.35 L532.60,209.76 L532.69,304.55 L532.79,232.61 L532.89,308.16 L532.99,323.95 L533.08,262.97 L533.18,295.67 L533.28,334.62 L533.37,448.18 L533.47,179.84 L533.56,242.91 L533.66,249.33 L533.76,439.02 L533.85,184.62 L533.95,322.08 L534.04,252.50 L534.14,253.44 L534.23,191.98 L534.33,273.23 L534.42,184.97 L534.52,269.72 L534.61,201.99 L534.71,331.46 L534.80,222.60 L534.90,220.52 L534.99,272.38 L535.09,255.30 L535.18,483.61 L535.27,202.42 L535.37,238.69 L535.46,275.91 L535.56,291.94 L535.65,199.18 L535.74,345.91 L535.84,305.67 L535.93,325.02 L536.02,287.47 L536.11,343.52 L536.21,361.10 L536.30,194.52 L536.39,223.67 L536.49,408.48 L536.58,177.59 L536.67,215.63 L536.76,194.90 L536.85,239.59 L536.95,280.83 L537.04,295.26 L537.13,258.15 L537.22,253.32 L537.31,273.29 L537.40,214.03 L537.49,240.49 L537.58,336.55 L537.68,300.32 L537.77,360.61 L537.86,256.55 L537.95,184.42 L538.04,233.48 L538.13,318.38 L538.22,303.90 L538.31,310.96 L538.40,513.15 L538.49,196.86 L538.58,196.57 L538.67,268.87 L538.76,322.84 L538.85,323.74 L538.94,241.30 L539.03,304.97 L539.11,212.25 L539.20,219.91 L539.29,206.04 L539.38,221.10 L539.47,282.24 L539.56,358.94 L539.65,554.89 L539.74,210.62 L539.82,254.26 L539.91,190.80 L540.00,207.93 L540.09,187.73 L540.18,200.57 L540.26,469.34 L540.35,361.77 L540.44,276.80 L540.53,242.17 L540.61,202.56 L540.70,319.32 L540.79,741.77 L540.87,205.75 L540.96,261.84 L541.05,371.78 L541.13,222.71 L541.22,359.54 L541.31,314.28 L541.39,312.44 L541.48,233.44 L541.57,247.13 L541.65,226.30 L541.74,208.13 L541.82,240.85 L541.91,284.54 L542.00,240.87 L542.08,207.34 L542.17,306.00 L542.25,265.06 L542.34,192.91 L542.42,199.71 L542.51,268.76 L542.59,248.00 L542.68,316.05 L542.76,269.59 L542.85,190.58 L542.93,217.71 L543.02,337.17 L543.10,196.22 L543.18,247.75 L543.27,295.28 L543.35,183.00 L543.44,320.40 L543.52,443.42 L543.60,608.86 L543.69,261.00 L543.77,192.49 L543.85,209.62 L543.94,397.83 L544.02,193.94 L544.10,216.98 L544.19,235.83 L544.27,238.00 L544.35,339.33 L544.44,261.09 L544.52,639.54 L544.60,502.15 L544.68,214.98 L544.77,512.55 L544.85,217.87 L544.93,273.34 L545.01,236.71 L545.10,352.13 L545.18,323.31 L545.26,410.06 L545.34,249.13 L545.42,184.37 L545.50,234.02 L545.59,203.19 L545.67,356.93 L545.75,281.26 L545.83,378.22 L545.91,243.23 L545.99,224.64 L546.07,324.96 L546.15,247.24 L546.24,390.27 L546.32,295.82 L546.40,435.56 L546.48,260.63 L546.56,202.00 L546.64,243.49 L546.72,407.43 L546.80,448.73 L546.88,236.72 L546.96,211.34 L547.04,340.76 L547.12,370.06 L547.20,405.78 L547.28,228.09 L547.36,257.35 L547.44,422.18 L547.52,237.72 L547.60,383.62 L547.67,197.81 L547.75,344.88 L547.83,273.41 L547.91,261.31 L547.99,264.07 L548.07,509.48 L548.15,317.90 L548.23,298.72 L548.30,231.29 L548.38,328.88 L548.46,281.84 L548.54,255.45 L548.62,269.20 L548.70,238.49 L548.77,305.90 L548.85,206.05 L548.93,278.48 L549.01,243.35 L549.09,236.73 L549.16,213.84 L549.24,250.81 L549.32,252.25 L549.40,181.80 L549.47,214.26 L549.55,256.45 L549.63,269.98 L549.70,270.50 L549.78,231.09 L549.86,305.69 L549.93,240.20 L550.01,226.55 L550.09,223.15 L550.16,334.59 L550.24,204.08 L550.32,194.31 L550.39,206.13 L550.47,363.04 L550.55,177.55 L550.62,325.45 L550.70,377.81 L550.77,315.00 L550.85,243.45 L550.93,320.34 L551.00,243.36 L551.08,278.97 L551.15,216.05 L551.23,241.54 L551.30,213.91 L551.38,338.42 L551.45,386.99 L551.53,258.50 L551.60,198.45 L551.68,221.34 L551.75,207.92 L551.83,435.37 L551.90,243.73 L551.98,290.08 L552.05,195.34 L552.13,181.40 L552.20,384.91 L552.28,541.90 L552.35,229.90 L552.42,238.87 L552.50,210.24 L552.57,259.28 L552.65,184.97 L552.72,643.81 L552.79,496.17 L552.87,243.41 L552.94,248.76 L553.02,261.50 L553.09,229.20 L553.16,267.53 L553.24,215.44 L553.31,283.75 L553.38,293.61 L553.46,281.00 L553.53,248.16 L553.60,316.31 L553.67,293.57 L553.75,299.96 L553.82,263.93 L553.89,198.17 L553.97,263.80 L554.04,355.82 L554.11,223.04 L554.18,191.37 L554.26,259.16 L554.33,226.51 L554.40,259.39 L554.47,404.55 L554.54,388.43 L554.62,233.26 L554.69,270.47 L554.76,326.56 L554.83,485.95 L554.90,244.61 L554.97,352.92 L555.05,233.29 L555.12,308.26 L555.19,365.46 L555.26,311.70 L555.33,175.39 L555.40,338.16 L555.47,313.64 L555.55,229.14 L555.62,205.92 L555.69,269.50 L555.76,213.90 L555.83,268.68 L555.90,289.70 L555.97,244.18 L556.04,272.15 L556.11,418.86 L556.18,300.38 L556.25,372.09 L556.32,321.34 L556.39,265.37 L556.46,284.39 L556.53,227.72 L556.60,192.57 L556.67,234.06 L556.74,221.84 L556.81,230.46 L556.88,271.93 L556.95,184.44 L557.02,213.01 L557.09,352.88 L557.16,357.25 L557.23,452.56 L557.30,228.53 L557.37,198.50 L557.44,769.07 L557.51,221.88 L557.58,204.18 L557.65,463.69 L557.72,323.72 L557.78,418.88 L557.85,248.66 L557.92,266.04 L557.99,246.28 L558.06,355.14 L558.13,390.59 L558.20,199.01 L558.27,473.59 L558.33,354.12 L558.40,380.54 L558.47,777.00 L558.54,253.35 L558.61,270.39 L558.67,247.71 L558.74,180.52 L558.81,204.59 L558.88,260.84 L558.95,574.63 L559.01,302.44 L559.08,200.98 L559.15,250.96 L559.22,247.82 L559.28,312.81 L559.35,260.87 L559.42,443.97 L559.49,335.97 L559.55,218.66 L559.62,282.06 L559.69,180.94 L559.76,225.66 L559.82,252.27 L559.89,238.02 L559.96,362.56 L560.02,304.22 L560.09,283.29 L560.16,268.65 L560.22,191.57 L560.29,451.78 L560.36,288.52 L560.42,234.52 L560.49,325.67 L560.56,179.99 L560.62,260.45 L560.69,199.63 L560.75,259.40 L560.82,212.08 L560.89,177.39 L560.95,251.13 L561.02,275.41 L561.08,235.54 L561.15,237.76 L561.22,293.44 L561.28,192.12 L561.35,199.99 L561.41,271.78 L561.48,352.10 L561.54,281.18 L561.61,175.01 L561.67,183.96 L561.74,244.74 L561.81,267.31 L561.87,216.22 L561.94,200.40 L562.00,416.18 L562.07,198.27 L562.13,239.56 L562.20,217.73 L562.26,329.69 L562.32,400.21 L562.39,288.97 L562.45,243.78 L562.52,206.39 L562.58,202.49 L562.65,241.63 L562.71,191.15 L562.78,197.48 L562.84,312.72 L562.91,490.01 L562.97,167.17 L563.03,170.20 L563.10,174.12 L563.16,201.24 L563.23,187.85 L563.29,275.27 L563.35,174.29 L563.42,217.83 L563.48,189.80 L563.54,195.14 L563.61,368.36 L563.67,347.75 L563.74,189.87 L563.80,245.94 L563.86,207.68 L563.93,250.25 L563.99,190.13 L564.05,488.53 L564.12,167.30 L564.18,223.98 L564.24,185.45 L564.30,163.76 L564.37,161.00 L564.43,303.00 L564.49,343.62 L564.56,208.82 L564.62,205.51 L564.68,421.18 L564.74,613.33 L564.81,281.73 L564.87,206.65 L564.93,437.82 L564.99,184.51 L565.06,258.94 L565.12,203.83 L565.18,213.17 L565.24,257.09 L565.31,273.50 L565.37,249.24 L565.43,227.38 L565.49,162.09 L565.55,167.60 L565.62,243.40 L565.68,306.84 L565.74,419.75 L565.80,288.58 L565.86,205.15 L565.92,446.47 L565.99,250.56 L566.05,355.42 L566.11,269.51 L566.17,285.51 L566.23,216.75 L566.29,291.58 L566.35,181.88 L566.42,360.04 L566.48,406.70 L566.54,297.91 L566.60,374.90 L566.66,206.65 L566.72,161.00 L566.78,281.00 L566.84,185.29 L566.90,331.51 L566.96,174.11 L567.02,203.40 L567.09,213.87" stroke="#ff7f0e" stroke-opacity="0.3" stroke-width="1.04"/>
<path d="M102.00,437.50 L131.50,570.00 L152.40,382.80 L168.60,455.50 L181.70,395.40 L192.80,420.50 L202.80,424.50 L211.20,409.50 L218.50,411.00 L225.50,401.80 L232.00,380.00 L237.50,357.00 L245.30,345.50 L253.20,327.00 L257.90,356.40 L265.30,382.00 L269.20,430.50 L272.80,411.30 L278.70,420.80 L285.40,357.90 L289.40,384.00 L294.10,423.20 L297.70,419.60 L300.10,430.30 L303.60,429.10 L307.20,414.90 L311.90,385.20 L315.60,395.50 L318.10,398.60 L320.70,421.30 L324.90,411.90 L330.00,430.70 L331.70,440.90 L335.10,435.80 L337.70,442.60 L341.10,451.10 L344.50,440.90 L347.90,413.60 L351.30,390.00 L354.70,385.80 L359.80,361.10 L363.30,357.70 L365.80,342.40 L370.10,333.90 L373.50,327.00 L375.20,330.40 L378.60,352.60 L382.60,381.10 L386.80,379.40 L391.10,403.30 L395.30,389.60 L397.90,375.10 L400.40,377.70 L404.70,390.50 L409.00,369.20 L412.40,365.80 L419.20,379.40 L422.60,378.60 L426.00,389.60 L431.10,389.60 L434.50,380.30 L438.80,389.60 L443.90,379.40 L448.10,379.40 L451.60,386.20 L456.70,370.90 L461.80,375.10 L465.20,375.10 L470.30,372.60 L473.50,383.70 L476.80,370.10 L480.20,376.90 L483.60,365.80 L487.00,381.10 L492.10,358.10 L499.80,334.30 L503.20,307.00 L506.60,321.50 L512.60,330.90 L519.40,347.90 L522.00,339.40 L527.90,344.50 L531.30,353.00 L535.60,365.80 L545.00,374.30 L548.40,363.30 L553.50,359.80 L555.20,368.40 L562.80,366.70 L565.40,376.90 L568.50,375.00" stroke="#1f77b4" stroke-width="4.17" stroke-linecap="square"/>
<path d="M102.00,458.70 L131.40,377.00 L152.40,388.00 L168.50,259.50 L181.70,394.80 L193.00,312.90 L203.00,392.00 L211.10,427.50 L218.76,383.00 L225.70,368.00 L232.00,300.00 L237.80,268.00 L243.20,245.00 L248.30,229.00 L252.90,223.90 L257.40,244.00 L261.50,271.60 L265.50,265.60 L269.20,272.40 L272.70,271.00 L276.10,269.00 L279.40,258.00 L282.50,253.00 L285.40,254.50 L288.30,245.50 L291.00,246.00 L293.70,241.00 L296.20,238.50 L301.10,246.60 L304.50,250.90 L306.20,267.10 L308.70,260.30 L312.10,279.80 L315.60,277.30 L319.80,261.10 L324.90,278.10 L329.20,271.30 L331.70,272.20 L336.00,289.20 L340.30,270.50 L343.70,273.00 L347.90,282.40 L350.50,273.00 L354.70,281.60 L357.30,293.50 L359.80,290.90 L364.10,277.30 L365.80,295.20 L370.10,281.60 L373.50,267.10 L376.90,268.80 L380.30,284.00 L383.40,276.00 L387.70,287.90 L392.80,301.60 L398.70,290.50 L403.00,304.10 L411.50,284.50 L416.60,310.90 L424.30,297.30 L429.40,308.40 L434.50,289.60 L443.00,306.70 L451.60,287.90 L461.80,274.30 L465.20,279.40 L470.00,275.40 L475.10,283.90 L480.20,291.60 L486.20,295.00 L491.30,289.80 L496.40,271.10 L502.40,259.50 L507.50,264.30 L512.60,272.80 L519.40,271.10 L524.50,262.60 L529.60,266.00 L534.70,269.40 L538.10,265.10 L542.40,276.20 L548.40,279.60 L553.20,279.30 L557.40,268.00 L564.00,254.00 L568.50,246.00" stroke="#ff7f0e" stroke-opacity="0.7" stroke-width="4.17" stroke-linecap="square"/>
</g>
<rect x="102.0" y="45.97" width="464.95000000000005" height="461.78" fill="none" stroke="#000" stroke-width="1.67" stroke-linejoin="miter"/>
<path d="M94.71,63.94H102.00M94.71,121.66H102.00M94.71,179.37H102.00M94.71,237.08H102.00M94.71,294.80H102.00M94.71,352.51H102.00M94.71,410.23H102.00M94.71,467.94H102.00" stroke="#000" stroke-width="1.67"/>
<path d="M218.76,507.75V515.04M386.29,507.75V515.04M553.82,507.75V515.04" stroke="#000" stroke-width="1.67"/>
<path d="M101.66,507.75V511.92M131.16,507.75V511.92M152.09,507.75V511.92M168.33,507.75V511.92M181.59,507.75V511.92M192.81,507.75V511.92M202.52,507.75V511.92M211.09,507.75V511.92M269.19,507.75V511.92M298.69,507.75V511.92M319.62,507.75V511.92M335.86,507.75V511.92M349.12,507.75V511.92M360.34,507.75V511.92M370.05,507.75V511.92M378.62,507.75V511.92M436.72,507.75V511.92M466.22,507.75V511.92M487.15,507.75V511.92M503.39,507.75V511.92M516.65,507.75V511.92M527.87,507.75V511.92M537.58,507.75V511.92M546.15,507.75V511.92" stroke="#000" stroke-width="1.25"/>
<rect x="302.1" y="55.95" width="254.9" height="66.95" rx="5.5" ry="5.5" fill="#fff" fill-opacity="0.8" stroke="#cccccc" stroke-width="1.67"/>
<path d="M307.9,72.9H353.9" stroke="#1f77b4" stroke-width="4.17"/>
<path d="M307.9,103.9H353.9" stroke="#ff7f0e" stroke-opacity="0.7" stroke-width="4.17"/>
<g font-family="Liberation Sans, sans-serif" fill="#000" stroke="#000" stroke-width="0.15">
<text transform="matrix(1.0161,0,0,1.1193,66.44,72.70)" x="-5.79" font-size="20.833">2</text>
<text transform="matrix(1.0541,0,0,1.1249,79.97,72.77)" x="-5.79" font-size="20.833">0</text>
<text transform="matrix(1.0068,0,0,1.1158,67.40,130.70)" x="-6.08" font-size="20.833">1</text>
<text transform="matrix(0.9949,0,0,1.1215,80.37,130.77)" x="-5.77" font-size="20.833">5</text>
<text transform="matrix(1.0068,0,0,1.1158,67.40,187.90)" x="-6.08" font-size="20.833">1</text>
<text transform="matrix(1.0541,0,0,1.1249,80.47,187.97)" x="-5.79" font-size="20.833">0</text>
<text transform="matrix(0.9949,0,0,1.1215,81.37,246.17)" x="-5.77" font-size="20.833">5</text>
<text transform="matrix(1.0541,0,0,1.1249,81.47,304.07)" x="-5.79" font-size="20.833">0</text>
<text transform="matrix(1.2884,0,0,1.1644,65.12,363.34)" x="-6.09" font-size="20.833">−</text>
<text transform="matrix(0.9949,0,0,1.1215,80.37,361.87)" x="-5.77" font-size="20.833">5</text>
<text transform="matrix(1.2884,0,0,1.1644,51.86,420.44)" x="-6.09" font-size="20.833">−</text>
<text transform="matrix(1.0068,0,0,1.1158,67.40,418.90)" x="-6.08" font-size="20.833">1</text>
<text transform="matrix(1.0541,0,0,1.1249,80.47,418.97)" x="-5.79" font-size="20.833">0</text>
<text transform="matrix(1.2884,0,0,1.1644,51.56,478.74)" x="-6.09" font-size="20.833">−</text>
<text transform="matrix(1.0068,0,0,1.1158,67.10,477.20)" x="-6.08" font-size="20.833">1</text>
<text transform="matrix(0.9949,0,0,1.1215,80.07,477.27)" x="-5.77" font-size="20.833">5</text>
<text transform="matrix(1.0068,0,0,1.1158,208.67,542.85)" x="-6.08" font-size="20.833">1</text>
<text transform="matrix(1.0541,0,0,1.1249,221.74,542.92)" x="-5.79" font-size="20.833">0</text>
<text transform="matrix(1.0161,0,0,1.1193,232.26,534.60)" x="-4.06" font-size="14.583">2</text>
<text transform="matrix(1.0068,0,0,1.1158,376.20,542.85)" x="-6.08" font-size="20.833">1</text>
<text transform="matrix(1.0541,0,0,1.1249,389.27,542.92)" x="-5.79" font-size="20.833">0</text>
<text transform="matrix(1.0124,0,0,1.1249,399.79,534.65)" x="-4.01" font-size="14.583">3</text>
<text transform="matrix(1.0068,0,0,1.1158,543.73,542.85)" x="-6.08" font-size="20.833">1</text>
<text transform="matrix(1.0541,0,0,1.1249,556.80,542.92)" x="-5.79" font-size="20.833">0</text>
<text transform="matrix(1.0543,0,0,1.1158,567.32,534.60)" x="-4.01" font-size="14.583">4</text>
<text transform="matrix(0.9971,0,0,1.0596,214.34,33.90)" x="-10.41" font-size="25">M</text>
<text transform="matrix(0.8992,0,0,1.0481,232.39,34.00)" x="-7.48" font-size="25">a</text>
<text transform="matrix(1.0869,0,0,1.0322,247.93,33.75)" x="-6.67" font-size="25">g</text>
<text transform="matrix(1.0782,0,0,1.0408,264.30,33.90)" x="-6.97" font-size="25">n</text>
<text transform="matrix(1.0222,0,0,1.0485,275.63,33.90)" x="-2.77" font-size="25">i</text>
<text transform="matrix(1.3365,0,0,1.0731,284.03,33.69)" x="-3.57" font-size="25">t</text>
<text transform="matrix(1.0782,0,0,1.0672,296.75,33.99)" x="-6.93" font-size="25">u</text>
<text transform="matrix(1.0869,0,0,1.0539,312.23,34.00)" x="-6.67" font-size="25">d</text>
<text transform="matrix(1.0801,0,0,1.0481,328.33,34.00)" x="-6.93" font-size="25">e</text>
<text transform="matrix(0.8914,0,0,1.0683,352.00,33.99)" x="-8.33" font-size="25">S</text>
<text transform="matrix(1.0879,0,0,1.0308,368.20,33.75)" x="-7.23" font-size="25">p</text>
<text transform="matrix(1.0801,0,0,1.0481,383.39,34.00)" x="-6.93" font-size="25">e</text>
<text transform="matrix(1.0034,0,0,1.0481,397.85,34.00)" x="-6.45" font-size="25">c</text>
<text transform="matrix(1.3365,0,0,1.0731,409.74,33.69)" x="-3.57" font-size="25">t</text>
<text transform="matrix(1.2812,0,0,1.0408,420.88,33.90)" x="-4.79" font-size="25">r</text>
<text transform="matrix(1.0782,0,0,1.0672,432.73,33.99)" x="-6.93" font-size="25">u</text>
<text transform="matrix(1.1394,0,0,1.0408,452.98,33.90)" x="-10.42" font-size="25">m</text>
<text transform="matrix(0.8571,0,0,1.1158,265.06,572.70)" x="-6.80" font-size="20.833">F</text>
<text transform="matrix(1.2812,0,0,1.0408,274.36,572.70)" x="-3.99" font-size="20.833">r</text>
<text transform="matrix(1.0801,0,0,1.0481,283.65,572.78)" x="-5.77" font-size="20.833">e</text>
<text transform="matrix(1.0857,0,0,1.0301,296.28,572.58)" x="-5.56" font-size="20.833">q</text>
<text transform="matrix(1.0782,0,0,1.0672,309.81,572.78)" x="-5.78" font-size="20.833">u</text>
<text transform="matrix(1.0801,0,0,1.0481,322.90,572.78)" x="-5.77" font-size="20.833">e</text>
<text transform="matrix(1.0782,0,0,1.0408,335.95,572.70)" x="-5.81" font-size="20.833">n</text>
<text transform="matrix(1.0034,0,0,1.0481,348.15,572.78)" x="-5.38" font-size="20.833">c</text>
<text transform="matrix(1.0739,0,0,1.0259,360.11,572.60)" x="-5.21" font-size="20.833">y</text>
<text transform="matrix(0.8453,0,0,0.9560,370.40,571.32)" x="-4.05" font-size="20.833">(</text>
<text transform="matrix(0.9948,0,0,1.1158,382.23,572.70)" x="-7.53" font-size="20.833">H</text>
<text transform="matrix(1.0715,0,0,1.0351,395.53,572.70)" x="-5.11" font-size="20.833">z</text>
<text transform="matrix(0.8453,0,0,0.9560,405.01,571.32)" x="-2.88" font-size="20.833">)</text>
<text transform="matrix(0,-0.9971,1.1158,0,31.90,348.65)" x="-8.68" font-size="20.833">M</text>
<text transform="matrix(0,-0.8992,1.0481,0,31.98,333.61)" x="-6.24" font-size="20.833">a</text>
<text transform="matrix(0,-1.0869,1.0322,0,31.77,320.66)" x="-5.56" font-size="20.833">g</text>
<text transform="matrix(0,-1.0782,1.0408,0,31.90,307.02)" x="-5.81" font-size="20.833">n</text>
<text transform="matrix(0,-1.0222,1.0485,0,31.90,297.58)" x="-2.31" font-size="20.833">i</text>
<text transform="matrix(0,-1.3365,1.0731,0,31.73,290.57)" x="-2.98" font-size="20.833">t</text>
<text transform="matrix(0,-1.0782,1.0672,0,31.98,279.98)" x="-5.78" font-size="20.833">u</text>
<text transform="matrix(0,-1.0869,1.0539,0,31.98,267.07)" x="-5.56" font-size="20.833">d</text>
<text transform="matrix(0,-1.0801,1.0481,0,31.98,253.66)" x="-5.77" font-size="20.833">e</text>
<text transform="matrix(0,-0.8453,0.9560,0,30.52,243.15)" x="-4.05" font-size="20.833">(</text>
<text transform="matrix(0,-1.0869,1.0539,0,31.98,232.91)" x="-5.56" font-size="20.833">d</text>
<text transform="matrix(0,-0.9716,1.1158,0,31.90,218.49)" x="-7.25" font-size="20.833">B</text>
<text transform="matrix(0,-0.8453,0.9560,0,30.52,207.63)" x="-2.88" font-size="20.833">)</text>
<text transform="matrix(0.8844,0,0,1.1158,374.55,81.10)" x="-7.25" font-size="20.833">P</text>
<text transform="matrix(1.2812,0,0,1.0408,385.03,81.10)" x="-3.99" font-size="20.833">r</text>
<text transform="matrix(1.0801,0,0,1.0481,394.32,81.18)" x="-5.77" font-size="20.833">e</text>
<text transform="matrix(1.0869,0,0,1.0539,406.95,81.18)" x="-5.56" font-size="20.833">d</text>
<text transform="matrix(1.0821,0,0,1.1598,417.24,81.10)" x="-2.89" font-size="20.833">.</text>
<text transform="matrix(0.8453,0,0,0.9560,431.31,79.72)" x="-4.05" font-size="20.833">(</text>
<text transform="matrix(0.9586,0,0,1.0509,440.79,81.18)" x="-5.12" font-size="20.833">s</text>
<text transform="matrix(1.1394,0,0,1.0408,456.37,81.10)" x="-8.68" font-size="20.833">m</text>
<text transform="matrix(1.0631,0,0,1.0481,472.83,81.18)" x="-5.79" font-size="20.833">o</text>
<text transform="matrix(1.0631,0,0,1.0481,485.58,81.18)" x="-5.79" font-size="20.833">o</text>
<text transform="matrix(1.3365,0,0,1.0731,496.06,80.93)" x="-2.98" font-size="20.833">t</text>
<text transform="matrix(1.0856,0,0,1.0485,506.78,81.10)" x="-5.84" font-size="20.833">h</text>
<text transform="matrix(1.0801,0,0,1.0481,519.75,81.18)" x="-5.77" font-size="20.833">e</text>
<text transform="matrix(1.0869,0,0,1.0539,532.38,81.18)" x="-5.56" font-size="20.833">d</text>
<text transform="matrix(0.8453,0,0,0.9560,543.36,79.72)" x="-2.88" font-size="20.833">)</text>
<text transform="matrix(0.9753,0,0,1.1249,375.40,111.87)" x="-7.85" font-size="20.833">G</text>
<text transform="matrix(1.0907,0,0,1.1158,389.35,111.80)" x="-6.36" font-size="20.833">T</text>
<text transform="matrix(0.8453,0,0,0.9560,406.46,110.42)" x="-4.05" font-size="20.833">(</text>
<text transform="matrix(0.9586,0,0,1.0509,415.95,111.88)" x="-5.12" font-size="20.833">s</text>
<text transform="matrix(1.1394,0,0,1.0408,431.53,111.80)" x="-8.68" font-size="20.833">m</text>
<text transform="matrix(1.0631,0,0,1.0481,447.99,111.88)" x="-5.79" font-size="20.833">o</text>
<text transform="matrix(1.0631,0,0,1.0481,460.74,111.88)" x="-5.79" font-size="20.833">o</text>
<text transform="matrix(1.3365,0,0,1.0731,471.22,111.63)" x="-2.98" font-size="20.833">t</text>
<text transform="matrix(1.0856,0,0,1.0485,481.93,111.80)" x="-5.84" font-size="20.833">h</text>
<text transform="matrix(1.0801,0,0,1.0481,494.90,111.88)" x="-5.77" font-size="20.833">e</text>
<text transform="matrix(1.0869,0,0,1.0539,507.53,111.88)" x="-5.56" font-size="20.833">d</text>
<text transform="matrix(0.8453,0,0,0.9560,518.52,110.42)" x="-2.88" font-size="20.833">)</text>
</g>
</svg>
</body></html>
